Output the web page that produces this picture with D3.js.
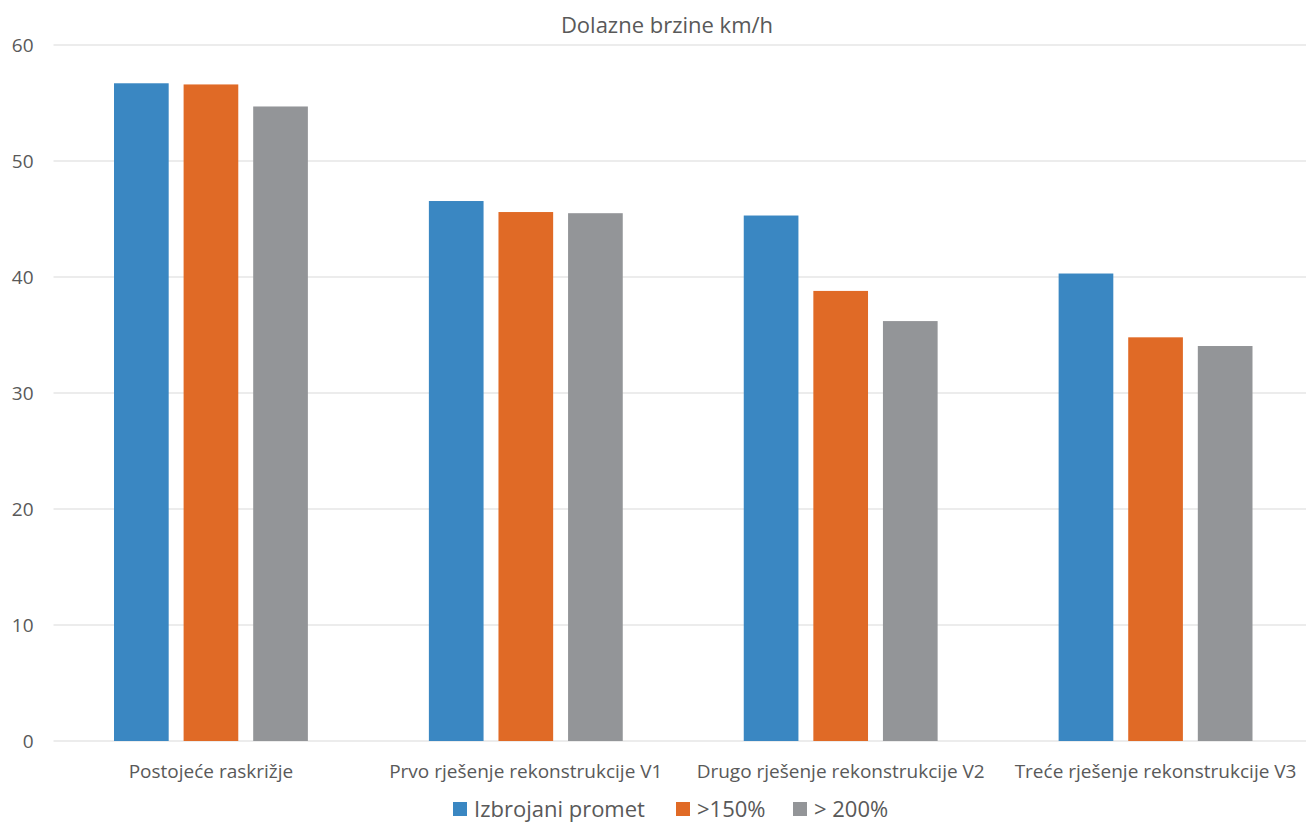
<!DOCTYPE html>
<html>
<head>
<meta charset="utf-8">
<script src="https://cdn.jsdelivr.net/npm/d3@7"></script>
<style>
  body { margin: 0; background: #fff; }
  text { font-family: "Open Sans", sans-serif; fill: #595959; }
</style>
</head>
<body>
<div id="chart"></div>
<script>
const categories = ["Postojeće raskrižje", "Prvo rješenje rekonstrukcije V1", "Drugo rješenje rekonstrukcije V2", "Treće rješenje rekonstrukcije V3"];
const seriesNames = ["Izbrojani promet", ">150%", "> 200%"];
const izbrojani = [56.7, 46.55, 45.3, 40.3];
const p150 = [56.6, 45.6, 38.8, 34.8];
const p200 = [54.7, 45.5, 36.2, 34.05];
const yTicks = [0, 10, 20, 30, 40, 50, 60];
const colors = ["#3a87c2", "#e06a26", "#939598"];

const W = 1306, H = 825;
const margin = { top: 45, right: -7, bottom: 84, left: 53.5 },
      width = W - margin.left - margin.right,
      height = H - margin.top - margin.bottom;

const series = [izbrojani, p150, p200];

const root = d3.select("#chart").append("svg")
  .attr("width", W).attr("height", H);

root.append("text")
  .attr("x", 667).attr("y", 33)
  .attr("text-anchor", "middle")
  .style("font-size", "22px")
  .text("Dolazne brzine km/h");

const svg = root.append("g")
  .attr("transform", `translate(${margin.left},${margin.top})`);

const x0 = d3.scaleBand().domain(categories).range([0, width]).paddingInner(0).paddingOuter(0);
const x1 = d3.scaleBand().domain(seriesNames).range([60.5, x0.bandwidth() - 60.5]).paddingInner(15 / 70).paddingOuter(0);
const y = d3.scaleLinear().domain([0, 60]).range([height, 0]);

// gridlines
svg.append("g")
  .selectAll("line")
  .data(yTicks)
  .join("line")
  .attr("x1", 0).attr("x2", width)
  .attr("y1", d => y(d)).attr("y2", d => y(d))
  .attr("stroke", "#d9d9d9").attr("stroke-width", 1.2);

// y labels
svg.append("g")
  .selectAll("text")
  .data(yTicks)
  .join("text")
  .attr("x", -20).attr("y", d => y(d))
  .attr("dy", "0.35em")
  .attr("text-anchor", "end")
  .style("font-size", "19px")
  .text(d => d);

// bars
const groups = svg.append("g")
  .selectAll("g")
  .data(categories)
  .join("g")
  .attr("transform", d => `translate(${x0(d)},0)`);

groups.selectAll("rect")
  .data((d, i) => series.map((s, j) => ({ name: seriesNames[j], value: s[i], j })))
  .join("rect")
  .attr("x", d => x1(d.name))
  .attr("width", x1.bandwidth())
  .attr("y", d => y(d.value))
  .attr("height", d => height - y(d.value))
  .attr("fill", d => colors[d.j]);

// x labels
svg.append("g")
  .selectAll("text")
  .data(categories)
  .join("text")
  .attr("x", d => x0(d) + x0.bandwidth() / 2)
  .attr("y", height + 37)
  .attr("text-anchor", "middle")
  .style("font-size", "19px")
  .text(d => d);

// legend
const legendX = [453, 676, 793];
const legend = root.append("g")
  .selectAll("g")
  .data(seriesNames)
  .join("g")
  .attr("transform", (d, i) => `translate(${legendX[i]},${802})`);
legend.append("rect")
  .attr("width", 14).attr("height", 14)
  .attr("fill", (d, i) => colors[i]);
legend.append("text")
  .attr("x", 21).attr("y", 7)
  .attr("dy", "0.35em")
  .style("font-size", "22px")
  .text(d => d);
</script>
</body>
</html>
